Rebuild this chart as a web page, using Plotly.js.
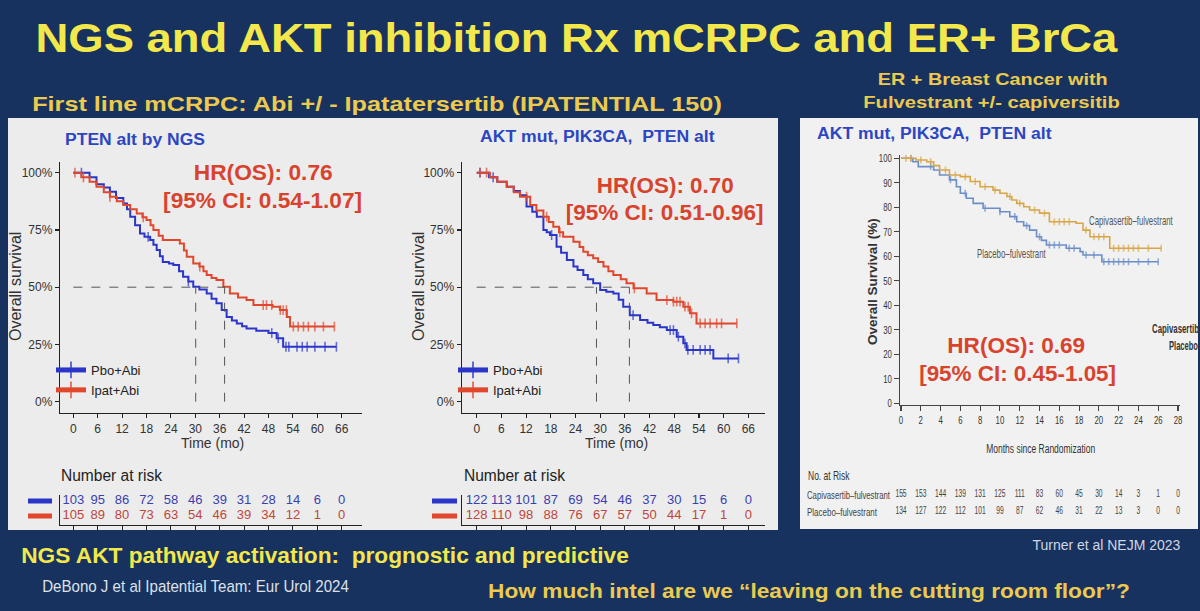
<!DOCTYPE html>
<html><head><meta charset="utf-8">
<script src="https://cdn.plot.ly/plotly-3.0.1.min.js"></script>
<style>html,body{margin:0;padding:0;background:#17325f;} #chart{width:1200px;height:611px;}</style>
</head><body><div id="chart"></div>
<script>
// ================= DATA =================
const monthTicks = [0, 6, 12, 18, 24, 30, 36, 42, 48, 54, 60, 66];
const pctTicks = [0, 25, 50, 75, 100];
const pctLabels = ['0%', '25%', '50%', '75%', '100%'];
const bcMonthTicks = [0, 2, 4, 6, 8, 10, 12, 14, 16, 18, 20, 22, 24, 26, 28];
const bcPctTicks = [0, 10, 20, 30, 40, 50, 60, 70, 80, 90, 100];

// Panel 1: PTEN alt by NGS (step times in months, survival % after each step, censor times)
const pten_pbo_t = [0, 4, 5.7, 7.5, 9, 10.5, 12.3, 13.2, 14, 15.2, 16.4, 17.5, 18.9, 19.7, 20.5, 21.3, 22, 23.5, 24.6, 26, 27, 28.3, 29.5, 31, 32.8, 34, 35.2, 36.5, 37.7, 39, 40.2, 41.5, 42.6, 45, 48, 50, 51.6];
const pten_pbo_s = [100, 98, 95, 93.5, 91.7, 89, 86.6, 84, 80.8, 77, 73.5, 72, 70.6, 68.5, 66.2, 63.5, 61, 60.3, 59.7, 57, 54.6, 52.5, 50.2, 49, 47.3, 45, 43, 40, 37, 35.5, 34.2, 33, 32, 31, 30, 27.7, 24];
const pten_pbo_cens = [2, 18.4, 28.3, 48.8, 50.4, 52.3, 53, 55, 56.3, 57.5, 59.4, 61.9, 64.7];
const pten_ipat_t = [0, 2, 4, 5.7, 7.5, 9, 10.7, 12.3, 14, 15.6, 17, 18, 19, 19.7, 21, 22, 26.2, 27.2, 27.9, 29.5, 31, 32, 32.8, 34, 35.2, 36.9, 38.5, 40.5, 42.6, 44.3, 49, 50.8, 52.5, 53.3];
const pten_ipat_s = [100, 98, 96, 93.9, 91.5, 89.5, 87.5, 85.9, 84, 82.2, 80.5, 79.3, 77, 75, 72.5, 70.6, 69.1, 66, 63.3, 60.4, 59, 57, 55.3, 54, 53.1, 50.2, 47.3, 45.5, 44.4, 42.2, 41.5, 40, 37, 32.8];
const pten_ipat_cens = [0.4, 2.5, 9, 17.2, 31.1, 46.7, 47.5, 48.8, 50.9, 51.6, 52.4, 54.1, 55.3, 56.6, 57.8, 59.4, 61.5, 64.2];
const pten_median = [30.1, 37.2];
const pten_risk_pbo = [103, 95, 86, 72, 58, 46, 39, 31, 28, 14, 6, 0];
const pten_risk_ipat = [105, 89, 80, 73, 63, 54, 46, 39, 34, 12, 1, 0];

// Panel 2: AKT mut, PIK3CA, PTEN alt (mCRPC)
const akt_pbo_t = [0, 3, 5, 7.3, 9, 10.5, 12.1, 13.5, 14.6, 16.2, 17, 17.8, 19.4, 20.5, 21.9, 23.5, 24.5, 25.9, 27, 28.3, 30, 31.5, 33.2, 34.5, 35.6, 37.2, 39.7, 41.5, 42.9, 44.5, 46.2, 48.6, 50.2, 51, 57.5];
const akt_pbo_s = [100, 98, 96, 93.9, 92, 90.2, 85.2, 83, 80.8, 75, 74, 72.8, 67.7, 65, 61.9, 59, 57.5, 55.3, 53.5, 51.7, 48.8, 48, 47.3, 44.5, 41.5, 37.8, 35.7, 34.5, 33.5, 32.5, 31.3, 28.4, 25.5, 22.6, 18.9];
const akt_pbo_cens = [0.8, 4, 18.2, 38, 47, 47.8, 49, 50.6, 51.3, 52.6, 54.3, 55.5, 56.7, 61.1, 63.6];
const akt_ipat_t = [0, 3.2, 5, 7.3, 9, 10.5, 13, 14.5, 16.2, 17.5, 18.6, 20, 21, 23.5, 25, 25.9, 27, 28.3, 29.5, 30.8, 32, 33.2, 35, 36.4, 38.1, 41.3, 43.7, 47.8, 50.2, 51.8, 53.4];
const akt_ipat_s = [100, 98, 96, 93.9, 91.5, 89.5, 85.9, 83.5, 80.8, 78.5, 76.4, 74, 72, 69.9, 67.5, 65.5, 64, 62.6, 61, 59, 57, 55.3, 53.5, 51.7, 49.5, 47.3, 44.4, 43.7, 41.5, 38.6, 34.2];
const akt_ipat_cens = [0.8, 2.4, 12.1, 17, 20.2, 38.3, 46.2, 47.8, 48.6, 49.4, 50.6, 51.4, 52.2, 54.3, 55.5, 56.7, 58.3, 59.5, 63.2];
const akt_median = [29.1, 37.1];
const akt_risk_pbo = [122, 113, 101, 87, 69, 54, 46, 37, 30, 15, 6, 0];
const akt_risk_ipat = [128, 110, 98, 88, 76, 67, 57, 50, 44, 17, 1, 0];

// Panel 3: ER+ breast cancer, fulvestrant +/- capivasertib
const capi_t = [0, 1.5, 2.6, 3.3, 3.9, 4.9, 6, 7, 8, 9.3, 10, 10.7, 11.2, 11.7, 12.4, 13, 14, 15, 17.7, 18.4, 19.1, 21.1];
const capi_s = [100, 99.3, 98.6, 97, 95.2, 93.2, 92.5, 90.5, 88.4, 87, 85.7, 84.4, 83, 81.6, 80.2, 78.9, 77.6, 74.1, 73.5, 70.7, 68, 63.3];
const capi_cens = [0.5, 1, 2, 3, 4.5, 5.5, 6.5, 7.5, 8.5, 9.5, 11, 12, 13.5, 14.5, 15.5, 16, 16.5, 17, 18.7, 19.5, 20, 20.5, 21.5, 22, 22.5, 23, 23.5, 24, 25, 26.3];
const plac_t = [0, 1.2, 1.75, 3.3, 3.9, 4.9, 5.6, 6, 6.6, 7.3, 8.3, 10, 11, 11.7, 12.4, 13, 13.7, 14.2, 14.7, 16.7, 18.1, 18.4, 20.3];
const plac_s = [100, 98.6, 96.6, 95.2, 93.2, 91.2, 88.4, 85.7, 83.7, 81.6, 79.6, 78.2, 76.2, 74.1, 72.5, 70.7, 68, 66.5, 64.6, 63.3, 61.9, 60.5, 57.8];
const plac_cens = [1, 3, 5, 6.5, 8.5, 10, 11.5, 12.7, 14, 15, 15.5, 16, 17, 17.5, 18.7, 19.5, 20.5, 21, 21.5, 22, 22.5, 23, 24, 25, 26];
const capi_risk = [155, 153, 144, 139, 131, 125, 111, 83, 60, 45, 30, 14, 3, 1, 0];
const plac_risk = [134, 127, 122, 112, 101, 99, 87, 62, 46, 31, 22, 13, 3, 0, 0];

// ================= HELPERS =================
const W = 1200, H = 611;
const X = px => px / W;
const Y = py => 1 - py / H;

function kmSeries(t, s, cens, msize) {
  const pts = t.map((x, i) => ({x, y: s[i], c: 0}));
  cens.forEach(c => {
    let y = s[0];
    for (let i = 0; i < t.length; i++) if (t[i] <= c) y = s[i];
    pts.push({x: c, y, c: 1});
  });
  pts.sort((a, b) => (a.x - b.x) || (a.c - b.c));
  return {x: pts.map(p => p.x), y: pts.map(p => p.y), size: pts.map(p => p.c ? msize : 0)};
}

const BLUE = '#2b36c9', RED = '#e0472c';
const BLUE_T = '#3a3fb0', RED_T = '#c0453a';
const GOLD = '#d9a646', SBLUE = '#6b8ec8';
const FONT = 'Liberation Sans, Arial, sans-serif';

function kmTrace(t, s, cens, color, width, msize, xa, ya, name, legend) {
  const k = kmSeries(t, s, cens, msize);
  return {
    type: 'scatter', mode: 'lines+markers', x: k.x, y: k.y, name: name || '',
    xaxis: xa, yaxis: ya, showlegend: !!legend, legend: legend || 'legend',
    line: {shape: 'hv', color, width},
    marker: {symbol: 'line-ns-open', size: k.size, color, line: {color, width: 1.6}},
    hoverinfo: 'skip'
  };
}

function textRow(ticks, vals, row, color, size, xa, ya) {
  return {
    type: 'scatter', mode: 'text', x: ticks, y: ticks.map(() => row), text: vals.map(String),
    textposition: 'middle center', textfont: {color, size, family: FONT}, cliponaxis: false,
    xaxis: xa, yaxis: ya, showlegend: false, hoverinfo: 'skip'
  };
}

const traces = [
  kmTrace(pten_pbo_t, pten_pbo_s, pten_pbo_cens, BLUE, 2, 7, 'x', 'y', 'Pbo+Abi', 'legend'),
  kmTrace(pten_ipat_t, pten_ipat_s, pten_ipat_cens, RED, 2, 7, 'x', 'y', 'Ipat+Abi', 'legend'),
  kmTrace(akt_pbo_t, akt_pbo_s, akt_pbo_cens, BLUE, 2, 7, 'x2', 'y2', 'Pbo+Abi', 'legend2'),
  kmTrace(akt_ipat_t, akt_ipat_s, akt_ipat_cens, RED, 2, 7, 'x2', 'y2', 'Ipat+Abi', 'legend2'),
  kmTrace(plac_t, plac_s, plac_cens, SBLUE, 1.6, 5, 'x5', 'y5'),
  kmTrace(capi_t, capi_s, capi_cens, GOLD, 1.6, 5, 'x5', 'y5'),
  textRow(monthTicks, pten_risk_pbo, 1, BLUE_T, 13, 'x3', 'y3'),
  textRow(monthTicks, pten_risk_ipat, 0, RED_T, 13, 'x3', 'y3'),
  textRow(monthTicks, akt_risk_pbo, 1, BLUE_T, 13, 'x4', 'y4'),
  textRow(monthTicks, akt_risk_ipat, 0, RED_T, 13, 'x4', 'y4'),
  textRow(bcMonthTicks, capi_risk, 1, '#444', 10.8, 'x6', 'y6'),
  textRow(bcMonthTicks, plac_risk, 0, '#444', 10.8, 'x6', 'y6')
];

// ================= AXES =================
const axBase = {showgrid: false, zeroline: false, showline: true, linecolor: '#222', linewidth: 1.2,
  ticks: 'outside', ticklen: 4, tickcolor: '#222', tickwidth: 1.1,
  tickfont: {family: FONT, size: 12, color: '#333'}, fixedrange: true};

function kmX(dom, range, anchor) {
  return Object.assign({}, axBase, {domain: dom, range, anchor, tickvals: monthTicks});
}
function kmY(dom, anchor) {
  return Object.assign({}, axBase, {domain: dom, range: [-4.93, 104.8], anchor, tickvals: pctTicks, ticktext: pctLabels});
}
function tabX(dom, range, anchor) {
  return Object.assign({}, axBase, {domain: dom, range, anchor, tickvals: monthTicks, showticklabels: false});
}
function tabY(dom, anchor) {
  return Object.assign({}, axBase, {domain: dom, range: [-0.6, 1.4], anchor, ticks: '', showticklabels: false});
}

const kmYdom = [Y(413), Y(161.7)];
const tabYdom = [Y(525), Y(495)];
const bcFont = {family: FONT, size: 10.8, color: '#333'};

const layout = {
  width: W, height: H, margin: {l: 0, r: 0, t: 0, b: 0},
  paper_bgcolor: '#17325f', plot_bgcolor: 'rgba(0,0,0,0)',
  hovermode: false, font: {family: FONT},
  xaxis: kmX([X(60), X(362)], [-3.27, 70.99], 'y'),
  yaxis: kmY(kmYdom, 'x'),
  xaxis2: kmX([X(461.7), X(765)], [-3.65, 70.05], 'y2'),
  yaxis2: kmY(kmYdom, 'x2'),
  xaxis3: tabX([X(60), X(362)], [-3.27, 70.99], 'y3'),
  yaxis3: tabY(tabYdom, 'x3'),
  xaxis4: tabX([X(461.7), X(765)], [-3.65, 70.05], 'y4'),
  yaxis4: tabY(tabYdom, 'x4'),
  xaxis5: Object.assign({}, axBase, {domain: [X(900), X(1180)], range: [-0.1, 28.2], anchor: 'y5',
    tickvals: bcMonthTicks, ticklen: 5, linecolor: '#444', tickcolor: '#444', linewidth: 1, tickfont: bcFont}),
  yaxis5: Object.assign({}, axBase, {domain: [Y(404.8), Y(154.6)], range: [-0.6, 101.5], anchor: 'x5',
    tickvals: bcPctTicks, ticklen: 5, linecolor: '#444', tickcolor: '#444', linewidth: 1, tickfont: bcFont}),
  xaxis6: {domain: [X(900), X(1180)], range: [-0.1, 28.2], anchor: 'y6', visible: false, fixedrange: true},
  yaxis6: {domain: [Y(520), Y(486)], range: [-0.5, 1.5], anchor: 'x6', visible: false, fixedrange: true},
  legend: {x: X(51), y: Y(355), xanchor: 'left', yanchor: 'top', bgcolor: 'rgba(0,0,0,0)',
    font: {family: FONT, size: 13, color: '#222'}, itemsizing: 'constant', tracegroupgap: 0, itemwidth: 30},
  legend2: {x: X(453), y: Y(355), xanchor: 'left', yanchor: 'top', bgcolor: 'rgba(0,0,0,0)',
    font: {family: FONT, size: 13, color: '#222'}, itemsizing: 'constant', tracegroupgap: 0, itemwidth: 30},
  shapes: [],
  annotations: []
};

// panel backgrounds
layout.shapes.push({type: 'rect', xref: 'paper', yref: 'paper', x0: X(8), x1: X(778), y0: Y(530), y1: Y(118),
  fillcolor: '#ececec', line: {width: 0}, layer: 'below'});
layout.shapes.push({type: 'rect', xref: 'paper', yref: 'paper', x0: X(800), x1: X(1198), y0: Y(529), y1: Y(118),
  fillcolor: '#f1f1f1', line: {width: 0}, layer: 'below'});

// median dashed lines
function medianShapes(med, xa, ya) {
  const ln = {color: '#555', width: 1, dash: 'dash'};
  return [
    {type: 'line', xref: xa, yref: ya, x0: 0, x1: med[1], y0: 50, y1: 50, line: ln},
    {type: 'line', xref: xa, yref: ya, x0: med[0], x1: med[0], y0: 0, y1: 50, line: ln},
    {type: 'line', xref: xa, yref: ya, x0: med[1], x1: med[1], y0: 0, y1: 50, line: ln}
  ];
}
layout.shapes.push(...medianShapes(pten_median, 'x', 'y'), ...medianShapes(akt_median, 'x2', 'y2'));

// risk table colour keys
[[28, 52], [432, 457]].forEach(([a, b]) => {
  layout.shapes.push({type: 'rect', xref: 'paper', yref: 'paper', x0: X(a), x1: X(b), y0: Y(503.5), y1: Y(498.5), fillcolor: BLUE, line: {width: 0}});
  layout.shapes.push({type: 'rect', xref: 'paper', yref: 'paper', x0: X(a), x1: X(b), y0: Y(518.5), y1: Y(513.5), fillcolor: RED, line: {width: 0}});
});

// annotations; fit = target width in px (tw) or horizontal scale (sx), applied after render
const annFit = [];
function ann(text, x, y, size, color, opts, fit) {
  layout.annotations.push(Object.assign({text, x: X(x), y: Y(y), xref: 'paper', yref: 'paper',
    showarrow: false, xanchor: 'center', yanchor: 'middle',
    font: {family: FONT, size, color}}, opts || {}));
  annFit.push(fit || null);
}
const YEL = '#f2e84c', GLD = '#ecca4f', HRC = '#d8432e', TB = '#2c46c2';

ann('<b>NGS and AKT inhibition Rx mCRPC and ER+ BrCa</b>', 576.5, 38, 40, YEL, null, {tw: 1083});
ann('<b>First line mCRPC: Abi +/ - Ipatatersertib (IPATENTIAL 150)</b>', 30, 104, 19.5, GLD, {xanchor: 'left'}, {tw: 690});
ann('<b>ER + Breast Cancer with</b>', 992, 79, 16, GLD, null, {tw: 230});
ann('<b>Fulvestrant +/- capiversitib</b>', 991, 103, 16, GLD, null, {tw: 257});

ann('<b>PTEN alt by NGS</b>', 63, 139, 17, TB, {xanchor: 'left'}, {tw: 140});
ann('<b>AKT mut, PIK3CA,  PTEN alt</b>', 597.5, 136, 17, TB, null, {tw: 235});
ann('<b>AKT mut, PIK3CA,  PTEN alt</b>', 815, 134, 17, TB, {xanchor: 'left'}, {tw: 235});

ann('<b>HR(OS): 0.76</b>', 263, 172.5, 22, HRC, null, {tw: 139});
ann('<b>[95% CI: 0.54-1.07]</b>', 262.5, 200, 22, HRC, null, {tw: 199});
ann('<b>HR(OS): 0.70</b>', 665, 185.5, 22, HRC, null, {tw: 137});
ann('<b>[95% CI: 0.51-0.96]</b>', 664, 212.5, 22, HRC, null, {tw: 198});
ann('<b>HR(OS): 0.69</b>', 1016, 345, 22, HRC, null, {tw: 138});
ann('<b>[95% CI: 0.45-1.05]</b>', 1017, 373.5, 22, HRC, null, {tw: 197});

ann('Overall survival', 15, 287, 16, '#333', {textangle: -90});
ann('Overall survival', 418, 287, 16, '#333', {textangle: -90});
ann('Time (mo)', 212, 443, 14, '#333');
ann('Time (mo)', 616, 443, 14, '#333');
ann('Number at risk', 59, 475, 16, '#222', {xanchor: 'left'}, {tw: 102});
ann('Number at risk', 462, 475, 16, '#222', {xanchor: 'left'}, {tw: 102});

ann('<b>Overall Survival (%)</b>', 872, 282, 13.5, '#333', {textangle: -90});
ann('Months since Randomization', 1040, 448, 13.5, '#333', null, {tw: 109});
ann('Capivasertib–fulvestrant', 1087, 220, 13, '#555', {xanchor: 'left'}, {tw: 84});
ann('Placebo–fulvestrant', 975, 253, 13, '#555', {xanchor: 'left'}, {tw: 69});
ann('<b>Capivasertib</b>', 1150, 328, 13.5, '#333', {xanchor: 'left'}, {tw: 47});
ann('<b>Placebo</b>', 1167, 345, 13.5, '#333', {xanchor: 'left'}, {tw: 29});
ann('No. at Risk', 806, 476, 12.5, '#333', {xanchor: 'left'}, {tw: 42});
ann('Capivasertib–fulvestrant', 805, 494.5, 11, '#444', {xanchor: 'left'}, {tw: 83});
ann('Placebo–fulvestrant', 805, 512, 11, '#444', {xanchor: 'left'}, {tw: 70});

ann('<b>NGS AKT pathway activation:  prognostic and predictive</b>', 19, 555, 22.5, YEL, {xanchor: 'left'}, {tw: 608});
ann('DeBono J et al Ipatential Team: Eur Urol 2024', 40, 586, 17, '#dde1ea', {xanchor: 'left'}, {tw: 307});
ann('<b>How much intel are we “leaving on the cutting room floor”?</b>', 486, 590, 21, GLD, {xanchor: 'left'}, {tw: 642});
ann('Turner et al NEJM 2023', 1182, 545, 14.5, '#d0d6e4', {xanchor: 'right'}, {tw: 148});

// horizontal text fitting (keeps text as real SVG text)
function scaleText(t, s, anchor) {
  if (!t || !isFinite(s)) return;
  const bb = t.getBBox();
  const ta = anchor || ({start: 'left', end: 'right'}[t.getAttribute('text-anchor')] || 'center');
  const cx = ta === 'left' ? bb.x : ta === 'right' ? bb.x + bb.width : bb.x + bb.width / 2;
  const prev = t.getAttribute('transform') || '';
  t.setAttribute('transform', (prev + ` translate(${cx},0) scale(${s},1) translate(${-cx},0)`).trim());
}

Plotly.newPlot('chart', traces, layout, {displayModeBar: false, staticPlot: true}).then(gd => {
  gd.querySelectorAll('g.annotation').forEach(g => {
    const i = +g.getAttribute('data-index');
    const f = annFit[i];
    if (!f) return;
    const t = g.querySelector('text.annotation-text');
    const s = f.tw ? f.tw / t.getBBox().width : f.sx;
    scaleText(t, s, layout.annotations[i].xanchor);
  });
  gd.querySelectorAll('g.x5tick text, g.y5tick text').forEach(t => scaleText(t, 0.72));
  gd.querySelectorAll('.subplot.x6y6 .textpoint text').forEach(t => scaleText(t, 0.62));
});
</script>
</body></html>
